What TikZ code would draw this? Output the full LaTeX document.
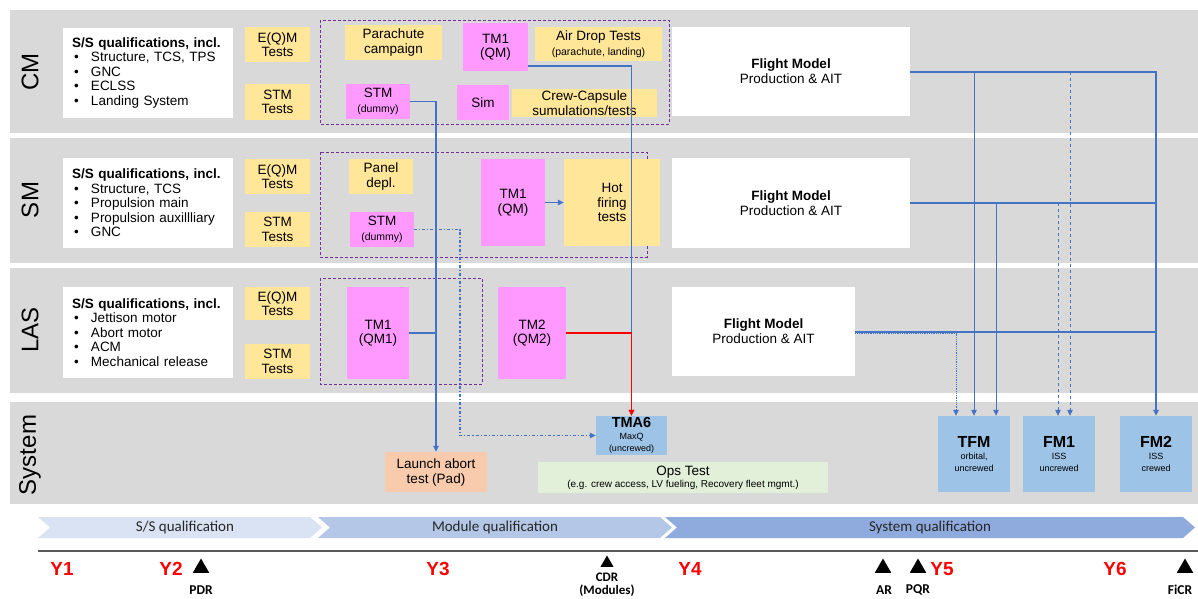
\documentclass[tikz,border=0pt]{standalone}
\usepackage{fontspec}
\setmainfont{Liberation Sans}
\newfontfamily\carlito{Carlito}
\usetikzlibrary{arrows.meta,shapes.geometric}
\definecolor{bandgray}{HTML}{D9D9D9}
\definecolor{testyel}{HTML}{FFE699}
\definecolor{modpink}{HTML}{FF99FF}
\definecolor{sysblue}{HTML}{9DC3E6}
\definecolor{padorange}{HTML}{F8CBAD}
\definecolor{opsgreen}{HTML}{E2F0D9}
\definecolor{linkblue}{HTML}{4472C4}
\definecolor{grppurple}{HTML}{7030A0}
\definecolor{phaseA}{HTML}{DAE3F3}
\definecolor{phaseB}{HTML}{B4C7E7}
\definecolor{phaseC}{HTML}{8FAADC}
\newcommand{\bul}{\makebox[19pt][l]{\hspace{2pt}\textbullet}}
\newcommand{\smalltxt}{\fontsize{10.5}{11.5}\selectfont}
\newcommand{\tinytxt}{\fontsize{9}{10}\selectfont}
\tikzset{
  band/.style={fill=bandgray},
  lane/.style={rotate=90, font=\fontsize{24}{24}\selectfont},
  grp/.style={draw=grppurple, densely dashed, line width=0.8pt},
  dims/.style 2 args={minimum width=#1pt, minimum height=#2pt},
  ssbox/.style={fill=white, text width=152pt, align=left, inner xsep=9pt, inner ysep=0pt,
    minimum height=90pt, font=\fontsize{13.5}{14.5}\selectfont},
  fmbox/.style={fill=white, align=center, inner sep=0pt, font=\fontsize{13.5}{15}\selectfont},
  testbox/.style={fill=testyel, align=center, inner sep=0pt, font=\fontsize{13.5}{14.5}\selectfont},
  modbox/.style={fill=modpink, align=center, inner sep=0pt, font=\fontsize{13.5}{14.5}\selectfont},
  sysbox/.style={fill=sysblue, align=center, inner sep=0pt},
  link/.style={draw=linkblue, line width=1.1pt},
  fmlink/.style={draw=linkblue, line width=2pt},
  arr/.style={-{Triangle[length=6pt,width=5.5pt]}},
  phase/.style={font=\carlito\fontsize{15}{15}\selectfont, text=black!85},
  year/.style={font=\bfseries\fontsize{19}{19}\selectfont, text=red},
  mstone/.style={regular polygon, regular polygon sides=3, fill=black, inner sep=0pt, minimum size=19pt},
  msl/.style={font=\carlito\bfseries\fontsize{13.5}{15}\selectfont, align=center}
}
\begin{document}
\begin{tikzpicture}[x=1pt,y=-1pt]
\useasboundingbox (0,0) rectangle (1198,598);
% swimlanes
\fill[band] (10,10) rectangle (1198,133);
\fill[band] (10,138) rectangle (1198,263);
\fill[band] (10,268) rectangle (1198,393);
\fill[band] (10,402) rectangle (1198,504);
\node[lane] (cmlab) at (30,72) {CM};
\node[lane] (smlab) at (30,200) {SM};
\node[lane] (laslab) at (30,330) {LAS};
\node[lane] (syslab) at (30,455) {System};

% CM
\node[ssbox] (cmss) at (148,73) {\textbf{S/S qualifications, incl.}\\ \bul Structure, TCS, TPS\\ \bul GNC\\ \bul ECLSS\\ \bul Landing System};
\node[testbox, dims={65}{35}] (cmeqm) at (277.5,44.5) {E(Q)M\\Tests};
\node[testbox, dims={65}{36}] (cmstmt) at (277.5,102) {STM\\Tests};
\draw[grp] (320,20) rectangle (669,124);
\node[testbox, dims={97}{35}] (cmpara) at (393.5,42.5) {Parachute\\campaign};
\node[modbox, dims={65}{48}] (cmtm) at (495.5,47) {TM1\\(QM)};
\node[testbox, dims={127}{34}] (cmair) at (598.5,44) {Air Drop Tests\\{\smalltxt (parachute, landing)}};
\node[modbox, dims={64}{35}] (cmstm) at (378,101.5) {STM\\{\smalltxt (dummy)}};
\node[modbox, dims={52}{35}] (cmsim) at (483,102.5) {Sim};
\node[testbox, dims={145}{28}] (cmcrew) at (584.5,103) {Crew-Capsule\\sumulations/tests};
\node[fmbox, dims={238}{89}] (cmfm) at (791,71.5) {\textbf{Flight Model}\\Production \& AIT};

% SM
\node[ssbox] (smss) at (148,203) {\textbf{S/S qualifications, incl.}\\ \bul Structure, TCS\\ \bul Propulsion main\\ \bul Propulsion auxillliary\\ \bul GNC};
\node[testbox, dims={65}{35}] (smeqm) at (277.5,176.5) {E(Q)M\\Tests};
\node[testbox, dims={65}{35}] (smstmt) at (277.5,229.5) {STM\\Tests};
\draw[grp] (320,152) rectangle (647,257);
\node[testbox, dims={64}{35}] (smpanel) at (381,176.5) {Panel\\depl.};
\node[modbox, dims={64}{35}] (smstm) at (382,229.5) {STM\\{\smalltxt (dummy)}};
\node[modbox, dims={64}{87}] (smtm) at (513,202.5) {TM1\\(QM)};
\node[testbox, dims={96}{87}] (smhot) at (612,202.5) {Hot\\firing\\tests};
\node[fmbox, dims={238}{90}] (smfm) at (791,203) {\textbf{Flight Model}\\Production \& AIT};

% LAS
\node[ssbox, minimum height=91pt] (lasss) at (148,332.5) {\textbf{S/S qualifications, incl.}\\ \bul Jettison motor\\ \bul Abort motor\\ \bul ACM\\ \bul Mechanical release};
\node[testbox, dims={65}{33}] (laseqm) at (277.5,303.5) {E(Q)M\\Tests};
\node[testbox, dims={65}{35}] (lasstmt) at (277.5,361.5) {STM\\Tests};
\draw[grp] (320,278) rectangle (482,384);
\node[modbox, dims={62}{92}] (lastm) at (378,333) {TM1\\(QM1)};
\node[modbox, dims={68}{92}] (lastmtwo) at (532,333) {TM2\\(QM2)};
\node[fmbox, dims={183}{89}] (lasfm) at (763.5,331.5) {\textbf{Flight Model}\\Production \& AIT};

% System
\node[fill=padorange, dims={102}{40}, align=center, inner sep=0pt, font=\fontsize{13.5}{15}\selectfont] (launch) at (436,472) {Launch abort\\test (Pad)};
\node[sysbox, dims={71}{39}] (tma) at (631.5,435.5) {{\bfseries\fontsize{14.5}{15}\selectfont TMA6}\\{\tinytxt MaxQ}\\{\tinytxt (uncrewed)}};
\node[fill=opsgreen, dims={290}{31}, align=center, inner sep=0pt] (ops) at (683,477.5) {{\fontsize{13.5}{14}\selectfont Ops Test}\\{\fontsize{10}{11}\selectfont (e.g. crew access, LV fueling, Recovery fleet mgmt.)}};
\node[sysbox, dims={72}{76}] (tfm) at (974,454) {{\bfseries\fontsize{16}{18}\selectfont TFM}\\{\tinytxt orbital,}\\{\tinytxt uncrewed}};
\node[sysbox, dims={72}{76}] (fmone) at (1059,454) {{\bfseries\fontsize{16}{18}\selectfont FM1}\\{\tinytxt ISS}\\{\tinytxt uncrewed}};
\node[sysbox, dims={72}{76}] (fmtwo) at (1156,454) {{\bfseries\fontsize{16}{18}\selectfont FM2}\\{\tinytxt ISS}\\{\tinytxt crewed}};

% test article flows
\coordinate (smbend) at (460,435.5);
\draw[link,arr] (cmstm.east) -| (launch.north);
\draw[link] (lastm.east) -- (lastm.east -| launch.north);
\draw[link,arr] ([yshift=-19pt]cmtm.east) -| (tma.north);
\draw[link,dash dot,arr] (smstm.east) -| (smbend) -- (tma.west);
\draw[link,arr] (smtm.east) -- (smhot.west);
\draw[red,line width=1.6pt,arr] (lastmtwo.east) -| (tma.north);

% flight model flows
\coordinate (tfmlas) at ([xshift=-18pt]tfm.north);
\coordinate (tfmsm) at ([xshift=22pt]tfm.north);
\coordinate (fmonesm) at ([xshift=-1pt]fmone.north);
\coordinate (fmonecm) at ([xshift=11pt]fmone.north);
\draw[fmlink,arr] (cmfm.east) -| (fmtwo.north);
\draw[fmlink] (smfm.east) -- (smfm.east -| fmtwo.north);
\draw[fmlink] (lasfm.east) -- (lasfm.east -| fmtwo.north);
\draw[link,line width=0.8pt,arr] (cmfm.east -| tfm.north) -- (tfm.north);
\draw[link,line width=0.8pt,arr] (tfmsm |- smfm.east) -- (tfmsm);
\draw[link,line width=0.8pt,dashed,arr] (fmonecm |- cmfm.east) -- (fmonecm);
\draw[link,line width=0.8pt,dashed,arr] (fmonesm |- smfm.east) -- (fmonesm);
\draw[link,line width=0.8pt,densely dotted,arr] ([yshift=-2pt]lasfm.east) -| (tfmlas);

% phases
\fill[phaseA] (38,517) -- (310,517) -- (322,527.5) -- (310,538) -- (38,538) -- (50,527.5) -- cycle;
\fill[phaseB] (318,517) -- (660,517) -- (672,527.5) -- (660,538) -- (318,538) -- (330,527.5) -- cycle;
\fill[phaseC] (665,517) -- (1183,517) -- (1195,527.5) -- (1183,538) -- (665,538) -- (677,527.5) -- cycle;
\node[phase] (ssq) at (185,527.5) {S/S qualification};
\node[phase] (modq) at (495,527.5) {Module qualification};
\node[phase] (sysq) at (930,527.5) {System qualification};

% timeline
\draw[black!65,line width=1.2pt] (38,551) -- (1198,551);
\node[year] (yone) at (62,569) {Y1};
\node[year] (ytwo) at (171,569) {Y2};
\node[year] (ythree) at (438,569) {Y3};
\node[year] (yfour) at (690,569) {Y4};
\node[year] (yfive) at (942,569) {Y5};
\node[year] (ysix) at (1115,569) {Y6};
\node[mstone] (pdrm) at (201,568) {};
\node[msl] (pdr) at (201,590) {PDR};
\node[mstone, minimum size=15pt] (cdrm) at (607,563) {};
\node[msl, font=\carlito\bfseries\fontsize{13}{13}\selectfont] (cdr) at (607,584.5) {CDR\\(Modules)};
\node[mstone] (arm) at (883,568) {};
\node[msl] (ar) at (884,590) {AR};
\node[mstone] (pqrm) at (918,568) {};
\node[msl] (pqr) at (918,590) {PQR};
\node[mstone] (ficrm) at (1185,568) {};
\node[msl] (ficr) at (1180,590) {FiCR};
\end{tikzpicture}
\end{document}
